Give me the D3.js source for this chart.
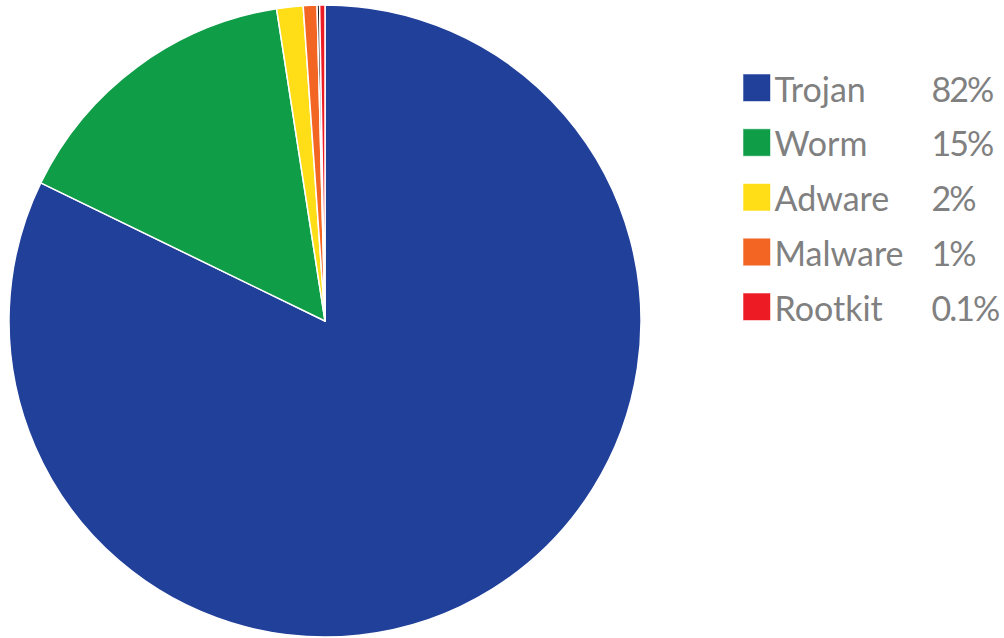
<!DOCTYPE html>
<html>
<head>
<meta charset="utf-8">
<script src="https://cdn.jsdelivr.net/npm/d3@7"></script>
<style>
  body { margin: 0; background: #fff; }
  svg { display: block; }
  .legend text { font-family: Lato, "Open Sans", sans-serif; fill: #808080; }
</style>
</head>
<body>
<div id="chart"></div>
<script>
// slices in clockwise order from 12 o'clock
var categories = ["Trojan", "Worm", "Adware", "Malware", "", "Rootkit"];
var values = [82.2, 15.35, 1.35, 0.7, 0.13, 0.27];
var colors = ["#21409a", "#0f9d48", "#ffdd17", "#f26522", "#231f20", "#ed1c24"];

// legend rows
var legendNames = ["Trojan", "Worm", "Adware", "Malware", "Rootkit"];
var legendLabels = ["82%", "15%", "2%", "1%", "0.1%"];
var legendColors = ["#21409a", "#0f9d48", "#ffdd17", "#f26522", "#ed1c24"];

var width = 1004;
var height = 638;
var cx = 325, cy = 321, radius = 316;

var svg = d3.select("#chart")
  .append("svg")
  .attr("width", width)
  .attr("height", height);

var data = categories.map(function (c, i) {
  return { name: c, value: values[i], color: colors[i] };
});

var pie = d3.pie()
  .sort(null)
  .value(function (d) { return d.value; });

var arc = d3.arc()
  .innerRadius(0)
  .outerRadius(radius);

var g = svg.append("g")
  .attr("transform", "translate(" + cx + "," + cy + ")");

g.selectAll("path")
  .data(pie(data))
  .enter().append("path")
  .attr("d", arc)
  .attr("fill", function (d) { return d.data.color; })
  .attr("stroke", "#fff")
  .attr("stroke-width", 1.5)
  .attr("stroke-linejoin", "round");

// legend
var legend = svg.append("g")
  .attr("class", "legend")
  .attr("transform", "translate(743.5,74.5)");

var rowY = d3.scaleLinear().domain([0, 4]).range([0, 219]);

var rows = legend.selectAll("g")
  .data(legendNames)
  .enter().append("g")
  .attr("transform", function (d, i) { return "translate(0," + rowY(i) + ")"; });

rows.append("rect")
  .attr("width", 26.5)
  .attr("height", 26.5)
  .attr("fill", function (d, i) { return legendColors[i]; })
  .attr("stroke", function (d, i) { return legendColors[i]; })
  .attr("stroke-opacity", 0.45)
  .attr("stroke-width", 1);

rows.append("text")
  .attr("x", 31)
  .attr("y", 27)
  .attr("font-size", 34)
  .text(function (d) { return d; });

rows.append("text")
  .attr("x", 188)
  .attr("y", 27)
  .attr("font-size", 34)
  .attr("letter-spacing", -2)
  .text(function (d, i) { return legendLabels[i]; });
</script>
</body>
</html>
